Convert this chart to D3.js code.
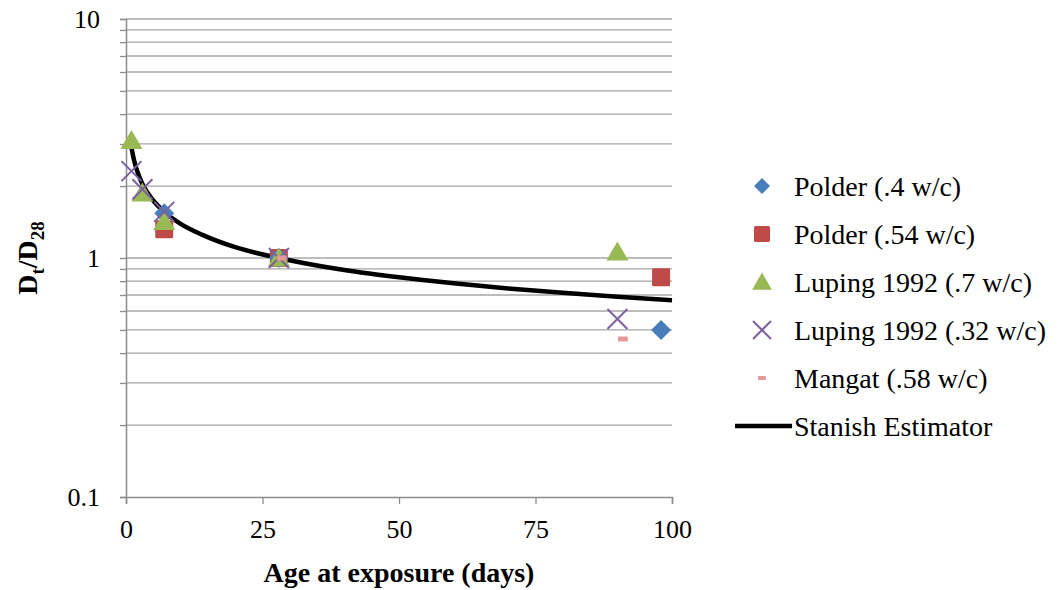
<!DOCTYPE html>
<html>
<head>
<meta charset="utf-8">
<script src="https://cdn.jsdelivr.net/npm/d3@7"></script>
<style>
  body { margin: 0; background: #fff; }
  text { font-family: "Liberation Serif", "Times New Roman", serif; }
</style>
</head>
<body>
<div id="chart"></div>
<script>
// series: [age in days, Dt/D28]
var polder40 = [[7, 1.54], [28, 1.0], [98, 0.5]];
var polder54 = [[7, 1.32], [28, 1.0], [98, 0.83]];
var luping70 = [[1, 3.1], [3, 1.87], [7, 1.42], [28, 1.0], [90, 1.06]];
var luping32 = [[1, 2.31], [3, 1.94], [7, 1.56], [28, 1.0], [90, 0.556]];
var mangat58 = [[28.5, 1.0], [91, 0.458]];
var stanish = [[1, 2.9], [1.5, 2.55], [2, 2.33], [3, 2.04], [5, 1.74], [7, 1.56], [10, 1.39],
               [14, 1.25], [20, 1.11], [28, 1.0], [40, 0.89], [50, 0.83], [60, 0.784],
               [70, 0.746], [80, 0.715], [90, 0.688], [100, 0.665]];

var xTicks = [0, 25, 50, 75, 100];
var yMajor = [0.1, 1, 10];
var yLabels = ["0.1", "1", "10"];

var legendNames = ["Polder (.4 w/c)", "Polder (.54 w/c)", "Luping 1992 (.7 w/c)",
                   "Luping 1992 (.32 w/c)", "Mangat (.58 w/c)", "Stanish Estimator"];

var W = 1063, H = 590;
var m = {left: 126, right: 391, top: 19, bottom: 93};

var svg = d3.select("#chart").append("svg")
    .attr("width", W)
    .attr("height", H);

var x = d3.scaleLinear().domain([0, 100]).range([m.left, W - m.right]);
var y = d3.scaleLog().domain([0.1, 10]).range([H - m.bottom, m.top]);

// gridlines at every log step
var gridVals = [];
[0.1, 1].forEach(function (b) {
    for (var k = 1; k < 10; k++) gridVals.push(b * k);
});
gridVals.push(10);

svg.append("g").selectAll("line")
    .data(gridVals.filter(function (d) { return d > 0.1; }))
    .enter().append("line")
    .attr("x1", x(0)).attr("x2", x(100))
    .attr("y1", function (d) { return y(d); })
    .attr("y2", function (d) { return y(d); })
    .style("stroke", "#a6a6a6")
    .style("stroke-width", 1.3);

// y axis
var yAxis = d3.axisLeft(y)
    .tickValues(gridVals)
    .tickSize(6)
    .tickFormat(function (d) {
        var i = yMajor.findIndex(function (v) { return Math.abs(v - d) < 1e-9; });
        return i >= 0 ? yLabels[i] : "";
    });
var gy = svg.append("g")
    .attr("transform", "translate(" + x(0) + ",0)")
    .call(yAxis);

// x axis
var gx = svg.append("g")
    .attr("transform", "translate(0," + y(0.1) + ")")
    .call(d3.axisBottom(x).tickValues(xTicks).tickSize(7).tickPadding(16));

[gx, gy].forEach(function (g) {
    g.select(".domain").style("stroke", "#8c8c8c").style("stroke-width", 1.5);
    g.selectAll(".tick line").style("stroke", "#8c8c8c").style("stroke-width", 1.3);
    g.selectAll("text")
        .style("font-family", "'Liberation Serif', serif")
        .style("font-size", "26px")
        .style("fill", "#000");
});
gy.selectAll("text").attr("x", -26).attr("dy", "0.32em");

// axis titles
svg.append("text")
    .attr("x", x(50)).attr("y", 582)
    .attr("text-anchor", "middle")
    .style("font-size", "28px").style("font-weight", "bold")
    .text("Age at exposure (days)");

var yt = svg.append("text")
    .attr("transform", "translate(37," + y(1) + ") rotate(-90)")
    .attr("text-anchor", "middle")
    .style("font-size", "28px").style("font-weight", "bold");
yt.append("tspan").text("D");
yt.append("tspan").attr("dy", 7).style("font-size", "19px").text("t");
yt.append("tspan").attr("dy", -7).text("/D");
yt.append("tspan").attr("dy", 7).style("font-size", "19px").text("28");

// estimator curve, drawn under the symbols
var line = d3.line()
    .x(function (d) { return x(d[0]); })
    .y(function (d) { return y(d[1]); })
    .curve(d3.curveMonotoneX);

svg.append("path")
    .datum(stanish)
    .attr("d", line)
    .style("fill", "none")
    .style("stroke", "#000")
    .style("stroke-width", 4.5);

var symbols = [
    {data: polder40, color: "#4a7ebb", type: "diamond"},
    {data: polder54, color: "#be4b48", type: "square"},
    {data: luping70, color: "#98b954", type: "triangle"},
    {data: luping32, color: "#7d60a0", type: "cross"},
    {data: mangat58, color: "#e39a98", type: "dash"}
];

function drawMark(g, type, color, s) {
    if (type === "diamond") {
        g.append("path").attr("d", "M0,-" + s + "L" + s + ",0L0," + s + "L-" + s + ",0Z")
            .style("fill", color);
    } else if (type === "square") {
        g.append("rect").attr("x", -s).attr("y", -s).attr("width", 2 * s).attr("height", 2 * s)
            .attr("rx", 1.5).style("fill", color);
    } else if (type === "triangle") {
        g.append("path").attr("d", "M0,-" + (s * 1.05) + "L" + (s * 1.1) + "," + (s * 0.85) + "L-" + (s * 1.1) + "," + (s * 0.85) + "Z")
            .style("fill", color);
    } else if (type === "cross") {
        g.append("path").attr("d", "M-" + s + ",-" + s + "L" + s + "," + s + "M" + s + ",-" + s + "L-" + s + "," + s)
            .style("stroke", color).style("stroke-width", 2).style("fill", "none");
    } else {
        g.append("rect").attr("x", -s).attr("y", -s * 0.5).attr("width", 2 * s).attr("height", s)
            .attr("rx", 1).style("fill", color);
    }
}

var sizes = {diamond: 10, square: 9, triangle: 10, cross: 10, dash: 5};
var legendSizes = {diamond: 8, square: 8, triangle: 9, cross: 9, dash: 4};

// draw order: squares, diamonds, triangles, crosses, dashes
[1, 0, 2, 3, 4].forEach(function (i) {
    var s = symbols[i];
    svg.append("g").selectAll("g")
        .data(s.data)
        .enter().append("g")
        .attr("transform", function (d) { return "translate(" + x(d[0]) + "," + y(d[1]) + ")"; })
        .each(function () { drawMark(d3.select(this), s.type, s.color, sizes[s.type]); });
});

// legend
var leg = svg.append("g");
legendNames.forEach(function (name, i) {
    var ly = 186 + i * 48;
    var g = leg.append("g").attr("transform", "translate(762," + ly + ")");
    if (i < 5) {
        drawMark(g, symbols[i].type, symbols[i].color, legendSizes[symbols[i].type]);
    } else {
        g.append("line").attr("x1", -27).attr("x2", 30).attr("y1", 0).attr("y2", 0)
            .style("stroke", "#000").style("stroke-width", 4.5);
    }
    leg.append("text")
        .attr("x", 794).attr("y", ly + 10)
        .style("font-size", "28px")
        .text(name);
});
</script>
</body>
</html>
